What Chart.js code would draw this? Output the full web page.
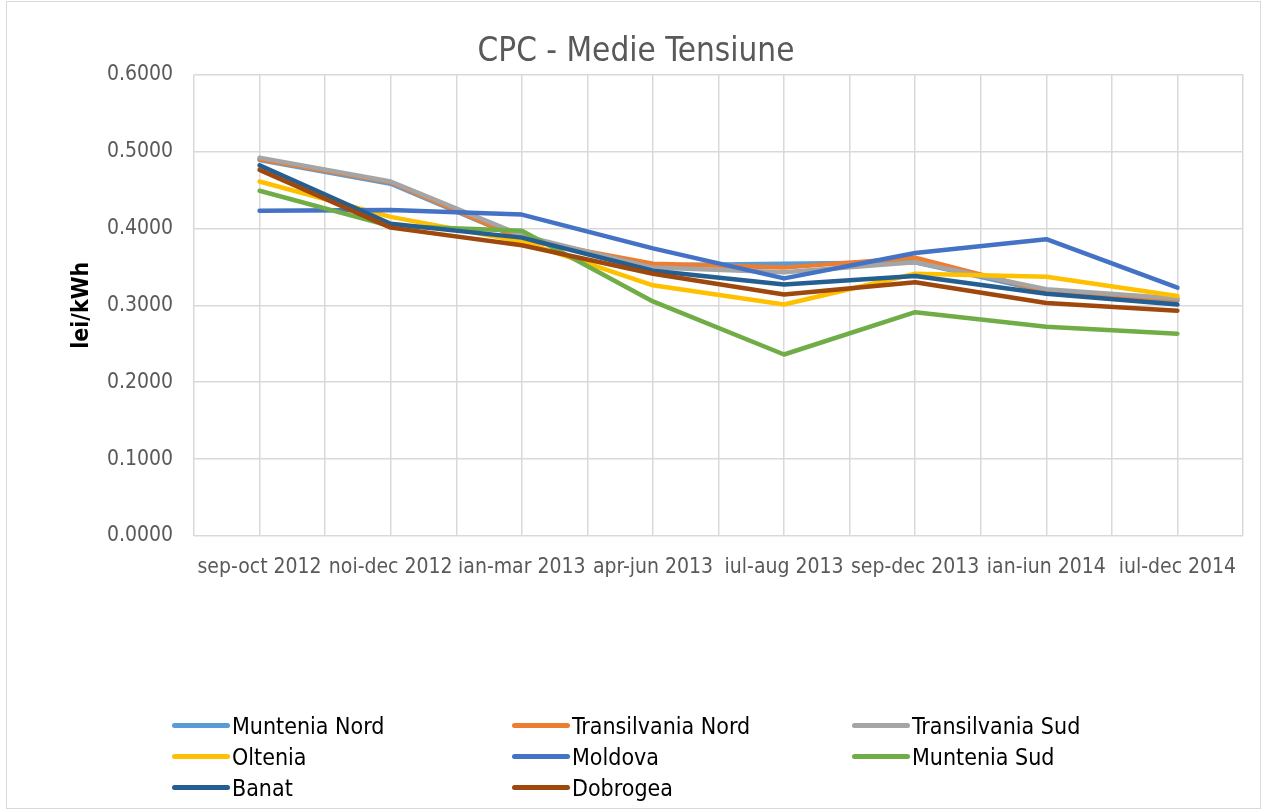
<!DOCTYPE html>
<html>
<head>
<meta charset="utf-8">
<script src="https://cdn.jsdelivr.net/npm/chart.js@4/dist/chart.umd.min.js"></script>
<style>
  body { margin: 0; background: #fff; }
  #wrap { position: relative; width: 1264px; height: 812px; }
  #frame { position: absolute; left: 6px; top: 1px; width: 1255px; height: 808px; border: 1px solid #d9d9d9; box-sizing: border-box; pointer-events: none; }
  #legend { position: absolute; left: 172px; top: 710px; display: grid; grid-template-columns: 340px 340px 340px; grid-auto-rows: 31px;
    font-family: "DejaVu Sans Condensed", "Liberation Sans Narrow", "DejaVu Sans", sans-serif; font-size: 23px; color: #000; }
  .item { display: flex; align-items: center; }
  .sw { width: 58px; height: 5px; border-radius: 3px; margin-right: 2px; }
</style>
</head>
<body>
<div id="wrap">
  <canvas id="cpcChart" width="1264" height="812"></canvas>
  <div id="frame"></div>
  <div id="legend"></div>
</div>
<script>
const perioade = ['sep-oct 2012', 'noi-dec 2012', 'ian-mar 2013', 'apr-jun 2013', 'iul-aug 2013', 'sep-dec 2013', 'ian-iun 2014', 'iul-dec 2014'];

const munteniaNord = [0.489, 0.458, 0.386, 0.352, 0.354, 0.356, 0.318, 0.306];
const transilvaniaNord = [0.490, 0.460, 0.386, 0.354, 0.349, 0.362, 0.318, 0.308];
const transilvaniaSud = [0.492, 0.461, 0.391, 0.349, 0.343, 0.356, 0.321, 0.309];
const oltenia = [0.461, 0.415, 0.383, 0.326, 0.301, 0.341, 0.337, 0.312];
const moldova = [0.423, 0.424, 0.418, 0.374, 0.335, 0.368, 0.386, 0.323];
const munteniaSud = [0.449, 0.403, 0.397, 0.305, 0.236, 0.291, 0.272, 0.263];
const banat = [0.482, 0.406, 0.388, 0.345, 0.327, 0.338, 0.315, 0.301];
const dobrogea = [0.476, 0.401, 0.378, 0.341, 0.314, 0.330, 0.303, 0.293];

const yTicks = [0, 0.1, 0.2, 0.3, 0.4, 0.5, 0.6];

const fontFam = '"DejaVu Sans Condensed", "Liberation Sans Narrow", "DejaVu Sans", sans-serif';

const serii = [
    ['Muntenia Nord', munteniaNord, '#5B9BD5'],
    ['Transilvania Nord', transilvaniaNord, '#ED7D31'],
    ['Transilvania Sud', transilvaniaSud, '#A5A5A5'],
    ['Oltenia', oltenia, '#FFC000'],
    ['Moldova', moldova, '#4472C4'],
    ['Muntenia Sud', munteniaSud, '#70AD47'],
    ['Banat', banat, '#255E91'],
    ['Dobrogea', dobrogea, '#9E480E']
];

// excel draws the last series on top
const datasets = serii.map((s, i) => ({
    label: s[0],
    data: s[1],
    borderColor: s[2],
    backgroundColor: s[2],
    borderWidth: 4.5,
    borderCapStyle: 'round',
    borderJoinStyle: 'round',
    tension: 0,
    pointRadius: 0,
    order: serii.length - i
}));

const ctx = document.getElementById('cpcChart');

new Chart(ctx, {
    type: 'line',
    data: {
        labels: perioade,
        datasets: datasets
    },
    options: {
        responsive: false,
        animation: false,
        layout: {
            padding: { left: 29, right: 21, top: 33, bottom: 226 }
        },
        plugins: {
            legend: { display: false },
            tooltip: { enabled: false },
            title: {
                display: true,
                text: 'CPC - Medie Tensiune',
                color: '#595959',
                font: { family: fontFam, size: 33, weight: 'normal' },
                padding: { top: 0, bottom: 2 }
            }
        },
        scales: {
            x: {
                offset: true,
                grid: { display: false, drawTicks: false },
                border: { display: false },
                ticks: {
                    color: '#595959',
                    font: { family: fontFam, size: 21 },
                    padding: 19,
                    autoSkip: false,
                    maxRotation: 0,
                    minRotation: 0
                },
                afterFit: (s) => { s.height = 50; }
            },
            x2: {
                type: 'linear',
                position: 'bottom',
                min: 0,
                max: perioade.length * 2,
                ticks: { display: false, stepSize: 1 },
                grid: { color: '#d9d9d9', lineWidth: 1.5, drawTicks: false },
                border: { display: false },
                afterFit: (s) => { s.height = 0; }
            },
            y: {
                min: 0,
                max: 0.6,
                afterBuildTicks: (s) => { s.ticks = yTicks.map(v => ({ value: v })); },
                grid: { color: '#d9d9d9', lineWidth: 1.5, drawTicks: false },
                border: { display: false },
                ticks: {
                    color: '#595959',
                    font: { family: fontFam, size: 21 },
                    padding: 21,
                    callback: (v) => Number(v).toFixed(4)
                },
                title: {
                    display: true,
                    text: 'lei/kWh',
                    color: '#000',
                    font: { family: fontFam, size: 23, weight: 'bold' },
                    padding: { top: 39, bottom: 0 }
                },
                afterFit: (s) => { s.width = 194 - 29; }
            }
        }
    }
});

const legendBox = document.getElementById('legend');
serii.forEach(s => {
    const it = document.createElement('div');
    it.className = 'item';
    const sw = document.createElement('span');
    sw.className = 'sw';
    sw.style.background = s[2];
    const tx = document.createElement('span');
    tx.textContent = s[0];
    it.appendChild(sw);
    it.appendChild(tx);
    legendBox.appendChild(it);
});
</script>
</body>
</html>
